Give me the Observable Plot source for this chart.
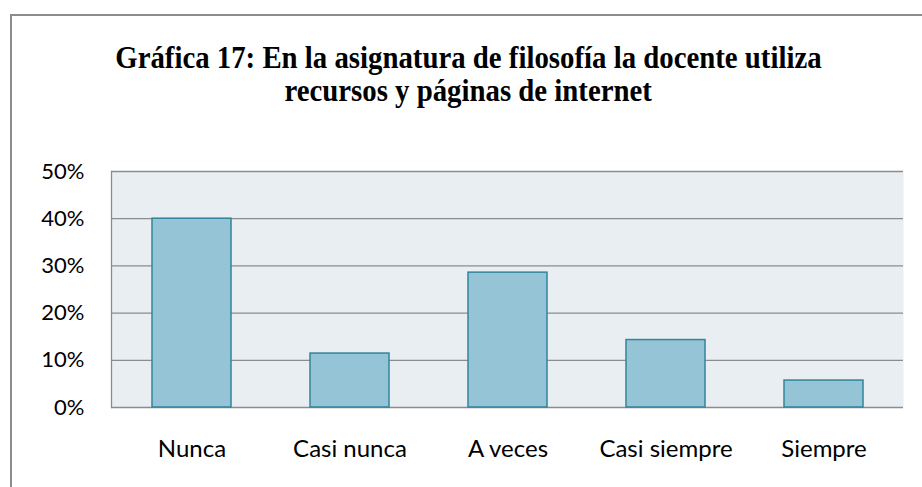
<!DOCTYPE html>
<html>
<head>
<meta charset="utf-8">
<script src="https://cdn.jsdelivr.net/npm/d3@7"></script>
<script src="https://cdn.jsdelivr.net/npm/@observablehq/plot@0.6"></script>
<style>
  html, body { margin: 0; padding: 0; background: #fff; }
  #wrap { position: relative; width: 922px; height: 487px; overflow: hidden; }
  #border { position: absolute; left: 10px; top: 14px; width: 1000px; height: 600px;
            border-left: 2px solid #8c8c8c; border-top: 2px solid #8c8c8c; box-sizing: border-box; }
  #title { position: absolute; left: 0; top: 41px; width: 936px; text-align: center;
           font-family: "Liberation Serif", "Times New Roman", serif; font-weight: bold;
           font-size: 32px; line-height: 33px; color: #000; }
  #title span { display: inline-block; line-height: 32px; transform: scaleX(0.9); transform-origin: center; white-space: nowrap; }
  #chart { position: absolute; left: 0; top: 0; }
</style>
</head>
<body>
<div id="wrap">
  <div id="border"></div>
  <div id="title"><span>Gráfica 17: En la asignatura de filosofía la docente utiliza</span><br><span>recursos y páginas de internet</span></div>
  <div id="chart"></div>
</div>
<script>
const categories = ["Nunca", "Casi nunca", "A veces", "Casi siempre", "Siempre"];
const values = [0.40, 0.1143, 0.2857, 0.1429, 0.0571];
const yTicks = [0, 0.1, 0.2, 0.3, 0.4, 0.5];

const data = categories.map((c, i) => ({category: c, value: values[i]}));

const chart = Plot.plot({
  width: 922,
  height: 487,
  marginLeft: 111,
  marginRight: 19,
  marginTop: 171,
  marginBottom: 80,
  style: {fontFamily: "Lato, sans-serif", fontSize: "22px", color: "#000", background: "transparent", overflow: "visible"},
  x: {domain: categories, paddingInner: 0.5, paddingOuter: 0.25, label: null},
  y: {domain: [0, 0.5], label: null},
  marks: [
    Plot.frame({fill: "#E8EEF2", stroke: null}),
    Plot.ruleY(yTicks, {stroke: "#8c8c8c", strokeWidth: 1.3}),
    Plot.frame({anchor: "left", stroke: "#8c8c8c", strokeWidth: 1.3}),
    Plot.barY(data, {x: "category", y: "value", fill: "#94C4D5", stroke: "#31859C", strokeWidth: 1.5}),
    Plot.axisY({ticks: yTicks, tickFormat: d3.format(".0%"), tickSize: 0, tickPadding: 27, label: null, fill: "#000", fontSize: 22}),
    Plot.axisX({tickSize: 0, tickPadding: 32, label: null, fill: "#000", fontSize: 24})
  ]
});
document.getElementById("chart").appendChild(chart);
</script>
</body>
</html>
